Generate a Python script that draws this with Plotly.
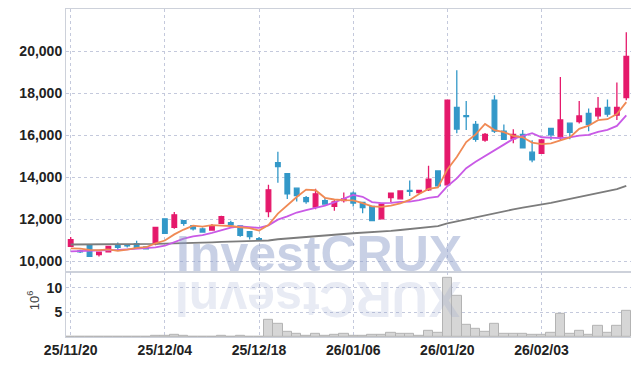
import plotly.graph_objects as go
from plotly.subplots import make_subplots

dates = ["25/11/20", "25/11/21", "25/11/24", "25/11/25", "25/11/26", "25/11/27", "25/11/28",
         "25/12/01", "25/12/02", "25/12/03", "25/12/04", "25/12/05", "25/12/08", "25/12/09",
         "25/12/10", "25/12/11", "25/12/12", "25/12/15", "25/12/16", "25/12/17", "25/12/18",
         "25/12/19", "25/12/22", "25/12/23", "25/12/24", "25/12/26", "25/12/29", "25/12/30",
         "26/01/02", "26/01/05", "26/01/06", "26/01/07", "26/01/08", "26/01/09", "26/01/12",
         "26/01/13", "26/01/14", "26/01/15", "26/01/16", "26/01/19", "26/01/20", "26/01/21",
         "26/01/22", "26/01/23", "26/01/26", "26/01/27", "26/01/28", "26/01/29", "26/01/30",
         "26/02/02", "26/02/03", "26/02/04", "26/02/05", "26/02/06", "26/02/09", "26/02/10",
         "26/02/11", "26/02/12", "26/02/13", "26/02/19"]

opens = [10710, 10500, 10740, 10320, 10450, 10790, 10790, 10840, 10680, 10830,
         12020, 11610, 11930, 11700, 11540, 11490, 11800, 11840, 11690, 11410,
         11080, 12370, 14690, 14170, 13480, 13030, 12580, 12880, 12610, 12890,
         13240, 12800, 12610, 12020, 13030, 12970, 13370, 13270, 13400, 14300,
         13640, 17320, 16930, 16510, 15770, 17660, 16190, 15820, 16040, 15190,
         15140, 16320, 15920, 16570, 16640, 17030, 16920, 17320, 16950, 17790]
highs = [11160, 10550, 10760, 10450, 10740, 10900, 10800, 10980, 10690, 11610,
         12050, 12340, 11940, 11720, 11610, 11770, 12170, 11930, 11720, 11430,
         11160, 13640, 15210, 14200, 13500, 13110, 13450, 13030, 12960, 13270,
         13320, 12800, 12610, 12720, 13240, 13350, 13840, 13370, 14550, 14300,
         17660, 19090, 17620, 16670, 16100, 17900, 16510, 16280, 16240, 15760,
         15820, 16320, 18770, 16570, 17620, 17270, 17820, 17700, 18500, 20900]
lows = [10700, 10400, 10230, 10230, 10440, 10550, 10660, 10620, 10580, 10760,
        11300, 11550, 11690, 11460, 11390, 11490, 11800, 11630, 11170, 11040,
        10970, 12100, 13740, 12960, 12840, 12740, 12480, 12720, 12400, 12800,
        12610, 12290, 11940, 12020, 12820, 12970, 13110, 13210, 13340, 13550,
        13600, 16090, 16240, 15690, 15690, 16100, 15770, 15610, 15400, 14710,
        15140, 15770, 15720, 15800, 16560, 16190, 16760, 16870, 16720, 17660]
closes = [11030, 10450, 10240, 10430, 10710, 10660, 10740, 10660, 10590, 11610,
          11330, 12210, 11800, 11540, 11390, 11650, 12120, 11730, 11230, 11170,
          11050, 13400, 14500, 13210, 13120, 12840, 13210, 12720, 12820, 12970,
          12770, 12560, 11940, 12720, 13240, 13350, 13330, 13370, 13910, 13590,
          17660, 16290, 16880, 15800, 16040, 16190, 15800, 16040, 15400, 14820,
          15770, 16010, 16720, 16130, 16910, 16510, 17270, 17000, 17320, 19750]

# volume, millions of shares
volumes = [0.1, 0.08, 0.1, 0.07, 0.08, 0.06, 0.08, 0.1, 0.06, 0.25,
           0.15, 0.45, 0.2, 0.1, 0.1, 0.1, 0.25, 0.1, 0.25, 0.1,
           0.12, 3.5, 2.75, 1.1, 0.65, 0.25, 0.6, 0.25, 0.45, 0.6,
           0.3, 0.15, 0.45, 0.45, 0.9, 0.57, 0.65, 0.3, 1.26, 0.78,
           12.0, 8.4, 2.55, 1.66, 1.1, 2.75, 0.65, 0.65, 0.65, 0.45,
           0.45, 0.9, 4.8, 0.65, 1.26, 0.45, 2.2, 0.9, 2.2, 5.3]

ma5 = [10620, 10600, 10540, 10530, 10570, 10500, 10560, 10640, 10670, 10850,
       10990, 11280, 11510, 11700, 11650, 11720, 11700, 11680, 11620, 11580,
       11460, 11720, 12270, 12670, 13060, 13410, 13380, 13020, 12940, 12910,
       12900, 12770, 12610, 12590, 12650, 12760, 12920, 13200, 13440, 13510,
       14370, 14960, 15670, 16040, 16530, 16240, 16140, 15970, 15900, 15650,
       15570, 15610, 15740, 15890, 16300, 16450, 16710, 16760, 17000, 17570]
ma10 = [10470, 10480, 10490, 10500, 10520, 10540, 10570, 10590, 10620, 10660,
        10740, 10920, 11080, 11190, 11250, 11350, 11490, 11600, 11660, 11620,
        11590, 11710, 11980, 12140, 12320, 12440, 12550, 12650, 12800, 12980,
        13160, 13070, 12820, 12770, 12780, 12830, 12840, 12910, 13020, 13080,
        13570, 13940, 14430, 14740, 15020, 15310, 15550, 15820, 15970, 16090,
        15900, 15880, 15860, 15890, 15980, 16010, 16160, 16250, 16440, 16940]
ma60 = [10800, 10800, 10790, 10790, 10795, 10800, 10805, 10810, 10810, 10825,
        10840, 10860, 10875, 10885, 10895, 10905, 10920, 10935, 10940, 10945,
        10950, 10990, 11050, 11090, 11125, 11160, 11200, 11230, 11265, 11300,
        11335, 11360, 11380, 11410, 11450, 11490, 11530, 11575, 11625, 11670,
        11800, 11900, 12000, 12100, 12190, 12290, 12380, 12470, 12550, 12620,
        12690, 12780, 12880, 12970, 13060, 13150, 13240, 13330, 13430, 13590]

price_ticks = [10000, 12000, 14000, 16000, 18000, 20000]
volume_ticks = [5, 10]
date_ticks = [dates[0], dates[10], dates[20], dates[30], dates[40], dates[50]]

RED = "#e5196b"
BLUE = "#3398c8"
ORANGE = "#f08a55"
PURPLE = "#c95ae6"
GRAY = "#7c7c7c"
GRID = "#c4c9dc"
FRAME = "#cdd1da"
TICKFONT = dict(family="Liberation Sans, Arial, sans-serif",
                size=14, color="#222222", weight="bold")

fig = make_subplots(rows=2, cols=1, shared_xaxes=True, vertical_spacing=0,
                    row_heights=[0.8013, 0.1987])

fig.add_trace(go.Candlestick(
    x=dates, open=opens, high=highs, low=lows, close=closes,
    increasing=dict(line=dict(color=RED, width=1.3), fillcolor=RED),
    decreasing=dict(line=dict(color=BLUE, width=1.3), fillcolor=BLUE),
    whiskerwidth=0, showlegend=False), row=1, col=1)

fig.add_trace(go.Scatter(x=dates, y=ma60, mode="lines", line=dict(color=GRAY, width=1.8),
                         showlegend=False), row=1, col=1)
fig.add_trace(go.Scatter(x=dates, y=ma10, mode="lines", line=dict(color=PURPLE, width=1.8),
                         showlegend=False), row=1, col=1)
fig.add_trace(go.Scatter(x=dates, y=ma5, mode="lines", line=dict(color=ORANGE, width=1.8),
                         showlegend=False), row=1, col=1)

fig.add_trace(go.Bar(x=dates, y=volumes, marker=dict(color="#d6d6d6", line=dict(color="#b3b3b3", width=1)),
                     showlegend=False), row=2, col=1)

axis_common = dict(showgrid=True, gridcolor=GRID, griddash="dot", gridwidth=1,
                   showline=True, linecolor=FRAME, linewidth=1, mirror=True,
                   zeroline=False, ticks="", tickfont=TICKFONT, automargin=False)

fig.update_xaxes(type="category", range=[-0.5, 59.5], tickmode="array", tickvals=date_ticks,
                 rangeslider=dict(visible=False), **axis_common)
fig.update_xaxes(showticklabels=False, row=1, col=1)
fig.update_yaxes(range=[9500, 22000], tickmode="array", tickvals=price_ticks,
                 tickformat=",d", row=1, col=1, **axis_common)
fig.update_yaxes(range=[0, 13.3], tickmode="array", tickvals=volume_ticks,
                 row=2, col=1, **axis_common)

wm_font = dict(family="Liberation Sans, Arial, sans-serif", size=50, weight="bold")
fig.add_annotation(text="InvestCRUX", xref="paper", yref="paper", x=0.447, y=0.161,
                   xanchor="center", yanchor="bottom", showarrow=False,
                   font=dict(color="rgba(140,156,200,0.48)", **wm_font))
fig.add_annotation(text="XURCtsevnI", xref="paper", yref="paper", x=0.447, y=0.207,
                   xanchor="center", yanchor="top", textangle=180, showarrow=False,
                   font=dict(color="rgba(140,156,200,0.2)", **wm_font))
fig.add_annotation(text="10<sup>6</sup>", xref="paper", yref="paper", x=-0.058, y=0.113,
                   xanchor="center", yanchor="middle", textangle=-90, showarrow=False,
                   font=dict(family="Liberation Sans, Arial, sans-serif", size=13, color="#444444"))

# the page body adds an 8 px offset, so the figure is sized to end at the window edge
fig.update_layout(width=631, height=358, margin=dict(l=58, r=8, t=1, b=29, autoexpand=False),
                  paper_bgcolor="white", plot_bgcolor="white", bargap=0.0,
                  hovermode=False)

fig.write_html("out.html")
